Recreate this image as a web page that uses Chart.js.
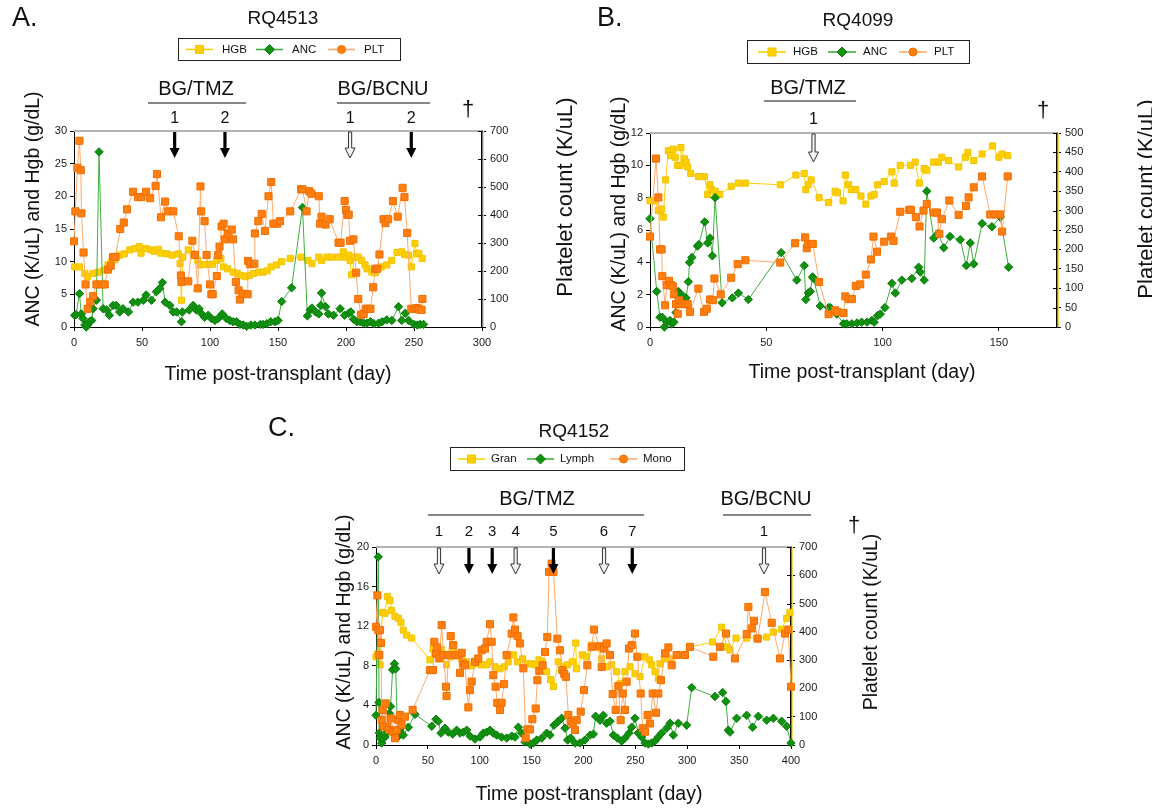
<!DOCTYPE html>
<html>
<head>
<meta charset="utf-8">
<script src="https://cdn.jsdelivr.net/npm/chart.js@4.4.1/dist/chart.umd.min.js"></script>
<style>
  html, body { margin: 0; padding: 0; background: #fff; }
  body { width: 1152px; height: 808px; position: relative; overflow: hidden; }
  canvas { position: absolute; }
</style>
</head>
<body>
<canvas id="chartA" width="576" height="400" style="left:0px;top:0px"></canvas>
<canvas id="chartB" width="612" height="400" style="left:540px;top:0px"></canvas>
<canvas id="chartC" width="700" height="408" style="left:250px;top:400px"></canvas>
<script>
// ---- data: [day, value] ----
const A_HGB = [[0.5,9.2],[4,9.2],[8,8.2],[10,7.7],[14,8.2],[17.7,8.4],[22,8.7],[25,9.5],[27.5,10.0],[30,10.3],[33.6,11.0],[37,11.2],[41,11.8],[44.7,12.0],[48,12.3],[49.3,11.3],[53,12.0],[57,11.8],[59,11.6],[62,11.9],[64,11.3],[68,11.2],[72,11.0],[76.6,11.2],[78,9.7],[79,4.1],[80,10.7],[84,11.8],[87.6,11.2],[91,10.2],[92.6,9.5],[96,9.6],[98.7,9.6],[102,9.6],[105,10.2],[108,10.5],[110,9.2],[113,8.9],[117,8.4],[120,8.2],[123,7.9],[126,7.7],[129,7.9],[132,8.2],[135.5,8.4],[139,8.4],[142,8.6],[145,9.2],[149,9.5],[152.7,10.0],[159,10.5],[167,10.7],[172,10.2],[175,9.7],[180,10.7],[182,10.2],[186,10.7],[189.5,10.7],[194.5,10.7],[198,11.5],[199.3,10.7],[202,11.0],[203,10.2],[204,8.0],[206.5,10.7],[209,10.7],[211.5,10.2],[214,9.5],[215.5,8.9],[219,8.4],[221.5,8.3],[222.5,8.9],[226,9.2],[230,9.5],[233.7,10.2],[237.5,11.4],[241,11.5],[243,11.1],[246,11.0],[248,9.2],[250.7,12.8],[252,11.2],[253.6,11.3],[256,10.5]];
const A_ANC = [[0.5,1.8],[1.5,1.9],[4,5.1],[5.4,2.0],[6.6,1.3],[8,0.3],[9,0.0],[10,0.3],[11.5,0.8],[13,1.0],[14,2.8],[16.5,4.1],[18.4,26.8],[21.4,2.8],[24,2.6],[26,1.8],[28.7,3.3],[31,3.3],[33.6,2.3],[36,2.8],[40,2.3],[43.5,3.8],[47,3.8],[51,4.1],[53,4.9],[57,4.1],[60.6,5.4],[63,5.9],[65,6.8],[67,3.8],[70.5,3.3],[73,2.3],[75.5,2.3],[79,0.8],[79.7,2.3],[84.7,2.6],[87.6,3.3],[90,2.6],[92,2.8],[94,2.0],[96,1.5],[98.7,1.8],[101,1.3],[103.6,1.0],[106,1.3],[109,2.0],[112,1.3],[114.6,1.0],[117,0.8],[119.5,0.8],[122,0.4],[124.5,0.3],[127,0.1],[130,0.3],[133,0.3],[137,0.4],[139,0.4],[141.7,0.5],[144.6,0.8],[147.8,0.8],[150,1.0],[152.7,3.9],[160,6.0],[168,18.3],[171.6,1.7],[173.6,2.6],[175,2.9],[177.7,2.3],[180,2.0],[181.5,3.3],[182,5.2],[185,3.1],[187,2.0],[190.8,1.8],[195.7,2.8],[199,1.8],[202,2.1],[203.5,2.3],[205.5,1.2],[208,0.8],[210.5,0.8],[213,0.6],[215.5,0.6],[218,0.8],[220.5,0.5],[224,0.6],[226.6,0.8],[230,1.1],[233.7,1.0],[238.6,3.1],[241,1.0],[243.6,2.1],[246,1.0],[250,0.4],[252.5,0.3],[254.5,0.4],[257,0.4]];
const A_PLT = [[0,306],[1,413],[2.5,569],[4,665],[5,560],[5.5,406],[7,266],[8.5,152],[10,65],[12,89],[14,110],[16.5,152],[20,152],[22.6,152],[25,205],[27,219],[28.7,250],[30.5,250],[34,350],[36.6,373],[39,420],[43.5,483],[47,464],[49.6,464],[53,483],[56,460],[60,504],[61,546],[64,392],[67,448],[69,413],[73,413],[77,324],[78.6,184],[79,161],[84,163],[87,308],[89,257],[91,138],[93,502],[93.5,413],[96,378],[97.5,257],[100,152],[101,117],[102,117],[105,182],[106,257],[107,287],[108.5,359],[110,369],[111,313],[113,334],[116,348],[117,313],[119,161],[121,131],[122,98],[124,119],[127.7,117],[128,236],[129.5,224],[132.6,226],[133,334],[135.5,378],[138,404],[140.4,343],[143,467],[145,518],[146.6,369],[149.5,369],[151.5,378],[159,413],[167,492],[168,492],[171,413],[173,485],[174.6,476],[180,467],[181,369],[182,394],[185,366],[188,385],[194.5,301],[196,301],[199,450],[200,418],[201,401],[202,401],[203,308],[205.5,313],[207.5,194],[209,100],[211,44],[213,47],[214.5,65],[216,65],[218,65],[220,142],[221.5,208],[223,208],[224.6,259],[227.6,385],[229,371],[231,385],[234.5,450],[238,394],[241.6,497],[243,464],[245,336],[248,65],[250.5,65],[252,68],[253.6,63],[255.6,61],[256.2,100]];

const B_HGB = [[0,7.8],[2.2,7.8],[3.6,7.2],[5,7.3],[5.7,6.8],[6.7,9.1],[7.9,10.9],[8.9,10.6],[10,11.0],[10.8,10.5],[11.8,10.0],[12.9,10.0],[13.3,11.1],[14.8,10.4],[15.5,10.2],[16.2,9.9],[17.5,9.5],[20.8,9.3],[23.4,9.3],[24.8,8.2],[25.8,8.8],[26.5,8.5],[28,8.4],[30,8.2],[34.9,8.7],[38,8.9],[41,8.9],[56,8.8],[62.7,9.4],[66.3,9.5],[67,8.5],[68,8.8],[69.3,9.1],[72.7,8.0],[76.8,7.7],[79.6,8.4],[80.6,8.3],[83,7.8],[84,9.4],[85.4,8.8],[86.5,8.5],[88.5,8.5],[90.7,8.1],[92.8,7.6],[95,8.1],[96.4,8.2],[97.8,8.8],[100.7,9.0],[104,9.6],[105,8.9],[107.6,10.0],[112,10.0],[114,10.2],[115.8,8.9],[117.9,9.8],[119,9.7],[122,10.2],[124,10.2],[125.5,10.5],[128.4,10.3],[132.7,9.9],[135.6,10.5],[136.7,10.8],[139.2,10.3],[142.8,10.7],[147.3,11.2],[150,10.5],[151.4,10.7],[153.8,10.6]];
const B_ANC = [[0,6.7],[2.9,2.2],[4.3,0.6],[5.3,0.6],[6.2,0.0],[7.2,0.3],[8.6,0.4],[9.3,0.2],[10.3,0.3],[11.2,0.9],[12.2,2.2],[12.9,2.0],[14.3,1.9],[15.5,1.8],[16.5,2.8],[17,4.0],[18,4.3],[20.4,5.0],[21,5.1],[23.5,6.5],[24.8,5.2],[25.8,5.5],[26.8,4.4],[28,8.0],[31,1.5],[35.4,1.8],[38,2.1],[42.3,1.7],[56.4,4.6],[63.1,2.9],[66.3,3.8],[67,1.7],[68.1,2.1],[68.9,2.2],[69.9,3.1],[70.3,3.0],[73.2,1.3],[76.8,1.2],[77.5,1.2],[80.3,0.8],[83.2,0.2],[84.6,0.2],[86.8,0.2],[89,0.25],[91,0.3],[93.3,0.3],[95.4,0.4],[96.4,0.3],[97.8,0.7],[99,0.8],[101,1.2],[104,2.7],[105.5,2.1],[108.3,2.9],[112.6,3.0],[115.5,3.7],[116.2,3.4],[117.9,2.9],[119,8.4],[122,5.5],[124,5.8],[126.3,4.9],[129,5.6],[133.4,5.4],[136,3.8],[137.7,5.2],[139.2,3.9],[142.8,6.4],[147,6.2],[150.6,6.8],[154.2,3.7]];
const B_PLT = [[0,233],[2.6,434],[3.6,334],[4.3,200],[5,200],[5.3,131],[6.5,56],[7.2,108],[8.2,119],[9,108],[9.8,105],[10.3,84],[11.2,59],[11.9,34],[12.6,69],[13.6,59],[15,59],[16.2,59],[17.2,39],[20.8,99],[23.2,39],[24.4,47],[25.8,71],[27,69],[27.7,125],[30.4,84],[34.9,127],[37.7,162],[41,172],[56,166],[62.4,216],[66.7,231],[67.4,203],[68,214],[69.3,214],[70,214],[72.7,116],[76.8,33],[79.6,43],[80.6,39],[83.2,36],[84,79],[85.4,72],[86.8,72],[88.5,106],[90.4,110],[92.8,135],[95,174],[96.1,233],[97.6,194],[100.7,220],[103.7,233],[104.7,222],[107.6,297],[111.5,302],[112.2,302],[114.3,283],[115.9,259],[117.6,300],[119,317],[122,295],[123.4,295],[124.4,240],[125.5,278],[128.7,326],[132.7,289],[135.9,312],[137,334],[139.2,360],[142.8,388],[146.3,290],[148.5,290],[150.6,290],[151.4,246],[153.8,388]];

const C_GRAN = [[0,8.9],[1.6,9.2],[3.9,8.1],[6.1,13.4],[8.7,13.3],[10.9,15.0],[13.5,14.6],[15.1,13.6],[18.3,13.0],[21.5,12.8],[24,12.4],[26.3,11.6],[29.6,11.1],[34.4,10.8],[52,8.6],[55,9.7],[58.5,9.1],[63.3,9.6],[68,8.1],[72,8.9],[74.5,9.4],[79.4,9.0],[82.6,8.7],[87.4,8.4],[92.2,8.0],[97,8.2],[101.8,8.1],[106.7,8.1],[109.9,8.4],[114.7,7.9],[119.5,7.7],[123.7,7.9],[127.5,8.4],[132.4,9.1],[136.5,8.4],[141.4,8.7],[145.9,8.2],[150,8.2],[153.3,8.1],[157,8.6],[160.3,8.4],[164.5,7.4],[168.3,6.6],[171,5.9],[175.7,8.4],[180.6,7.9],[184.4,8.1],[189.2,8.4],[192.5,10.3],[193.4,7.7],[198.9,9.1],[203,8.9],[207.9,10.1],[212.7,9.9],[217.5,8.7],[222.3,7.9],[227.2,8.1],[231.9,7.4],[235.2,6.2],[240,7.4],[244.8,7.9],[249.6,7.2],[254.5,6.9],[259.3,8.9],[263.4,8.6],[265.7,8.1],[268.9,7.4],[272.1,6.7],[273.7,8.2],[277.9,8.7],[283.4,8.7],[291.4,9.1],[302.6,9.9],[324.5,10.4],[333.2,11.9],[338,9.9],[341.2,9.6],[347,10.8],[357.3,10.8],[367,10.8],[376.6,10.9],[383,11.4],[391,11.7],[395.8,12.8],[399,13.4]];
const C_LYMPH = [[0,3.0],[2.2,19.0],[2.9,4.3],[3.2,1.2],[3.9,0.7],[5.5,0.2],[7,0.7],[8.7,0.8],[10.9,1.3],[12.9,3.2],[14.1,3.9],[16,7.6],[17.7,8.2],[19,7.7],[20.9,0.8],[23,1.5],[26.3,1.0],[31.2,1.8],[37.6,3.1],[53.7,1.9],[57.8,2.6],[60,2.4],[62.6,1.2],[66.5,1.7],[69.7,1.3],[73.9,1.1],[77.7,1.5],[81,1.2],[84.2,1.3],[87.4,1.5],[90.6,0.9],[95.4,0.6],[100.2,0.8],[103.5,1.2],[106.7,1.3],[109.9,1.5],[113,1.2],[116.3,1.0],[121,0.8],[126,0.7],[130.8,0.9],[134,0.8],[137.2,1.8],[140.4,1.2],[143.6,0.3],[148.4,0.1],[151.6,0.2],[154.9,0.5],[159.7,0.7],[164.5,1.2],[167.7,1.0],[171.6,2.0],[175.7,2.4],[179,2.7],[182.2,1.7],[184.7,0.5],[187.6,0.7],[191.8,0.2],[196.6,0.2],[201.4,0.5],[206.3,1.0],[209.5,1.1],[211.7,2.9],[215.9,2.5],[219.1,3.0],[222.3,2.2],[225.5,2.4],[228.8,1.0],[232.6,0.7],[236.8,0.4],[240,0.7],[243.9,1.2],[246.4,1.8],[249.6,2.7],[252.8,1.2],[256,0.8],[259.3,0.2],[262.5,0.1],[265.7,0.2],[268.9,0.4],[272.1,0.8],[275.3,1.2],[280.2,1.7],[283.4,2.2],[286.6,1.0],[291.4,2.2],[299.4,2.0],[304.3,5.8],[326.7,4.9],[334.1,5.3],[337.3,4.4],[339.6,1.5],[341.2,1.3],[347.6,2.7],[357.3,3.0],[363,1.8],[368.5,2.9],[376.6,2.5],[383,2.7],[391,2.4],[395.8,1.9],[400,0.2]];
const C_MONO = [[0,418],[1.3,529],[2.2,406],[3.2,318],[3.9,406],[4.8,361],[5.5,88],[6.4,124],[7.7,65],[9.3,147],[10.9,65],[12.9,53],[14.5,94],[16.7,47],[18.3,24],[19.9,53],[21.5,88],[23,106],[24.7,71],[27.9,100],[35.3,124],[52,265],[55,265],[56.2,365],[57.8,324],[59,345],[61,306],[63.3,424],[65,318],[67.5,206],[68,173],[69.7,318],[72,385],[74.5,353],[76.1,318],[79.4,318],[81,255],[82.6,326],[84.2,288],[85.8,282],[89,133],[90.6,194],[92.2,224],[95.4,294],[98.6,306],[101.8,335],[105,341],[106.7,365],[109.9,427],[111.5,365],[113.1,247],[115.3,206],[116.9,149],[119.5,124],[121.1,149],[123.4,215],[125.9,318],[130.8,394],[132.4,451],[134,408],[136.5,385],[138.8,359],[142,271],[144.3,24],[145.9,55],[148.4,55],[150.7,91],[153.9,129],[155.5,229],[157.4,262],[160.6,282],[162.9,329],[165.1,382],[166.8,612],[169.3,641],[171,612],[174.8,376],[177.3,335],[179.6,265],[181.5,251],[183.1,241],[185.4,106],[187.6,82],[189.6,73],[191.8,53],[193.4,88],[197.3,118],[200.5,194],[203.7,282],[207.9,347],[210.1,408],[215.3,349],[217.5,276],[219.8,341],[222.3,359],[225.5,318],[228.1,180],[231,124],[233.6,208],[235.8,88],[237.8,182],[240,124],[241.6,224],[243.9,341],[246.4,353],[249.6,394],[251.9,312],[255.1,182],[257,59],[259.3,47],[261.8,106],[264.1,76],[266.7,182],[269.9,114],[272.1,182],[274.7,229],[278.6,324],[281.8,345],[285,282],[289.8,318],[297.8,318],[302.6,347],[325.1,312],[331.6,347],[337.3,394],[346,306],[357.3,392],[358.9,488],[362.1,412],[364.3,439],[367.9,376],[374.9,541],[381.4,432],[389.4,306],[394.2,394],[397.4,408],[400,206]];

// treatment days (arrows) and whether the arrow is drawn hollow
const A_TMZ_DAYS = [74, 111];
const A_TMZ_HOLLOW = [false, false];
const A_BCNU_DAYS = [203, 248];
const A_BCNU_HOLLOW = [true, false];
const B_TMZ_DAYS = [70.3];
const B_TMZ_HOLLOW = [true];
const C_TMZ_DAYS = [60.7, 89.6, 112, 134.6, 171, 219.8, 247];
const C_TMZ_HOLLOW = [true, false, false, true, false, true, false];
const C_BCNU_DAYS = [374];
const C_BCNU_HOLLOW = [true];

// tick labels
const A_X_TICKS = [0, 50, 100, 150, 200, 250, 300];
const A_Y_TICKS = [0, 5, 10, 15, 20, 25, 30];
const A_Y1_TICKS = [0, 100, 200, 300, 400, 500, 600, 700];
const B_X_TICKS = [0, 50, 100, 150];
const B_Y_TICKS = [0, 2, 4, 6, 8, 10, 12];
const B_Y1_TICKS = [0, 50, 100, 150, 200, 250, 300, 350, 400, 450, 500];
const C_X_TICKS = [0, 50, 100, 150, 200, 250, 300, 350, 400];
const C_Y_TICKS = [0, 4, 8, 12, 16, 20];
const C_Y1_TICKS = [0, 100, 200, 300, 400, 500, 600, 700];

const FONT = "'Liberation Sans', Arial, Helvetica, sans-serif";
Chart.defaults.font.family = FONT;
Chart.defaults.color = '#1a1a1a';

const YELLOW = { fill: '#FFD000', edge: '#F2C200', line: '#FFD000', style: 'rect', r: 4.3 };
const GREEN = { fill: '#109210', edge: '#0B7D0B', line: '#3FAE3F', style: 'rectRot', r: 4.2 };
const ORANGE = { fill: '#FF7F10', edge: '#F06E00', line: '#FFAA6A', style: 'rect', r: 5 };

function txt(ctx, s, x, y, size, align, rot) {
  ctx.save();
  ctx.font = size + 'px ' + FONT;
  ctx.fillStyle = '#111';
  ctx.textAlign = align || 'center';
  ctx.textBaseline = 'middle';
  ctx.translate(x, y);
  if (rot) ctx.rotate(rot);
  ctx.fillText(s, 0, 0);
  ctx.restore();
}

function marker(ctx, style, x, y, r, c) {
  ctx.fillStyle = c.fill;
  ctx.strokeStyle = c.edge;
  ctx.lineWidth = 1;
  ctx.beginPath();
  if (style === 'rect') ctx.rect(x - r, y - r, 2 * r, 2 * r);
  else if (style === 'rectRot') { ctx.moveTo(x, y - r - 1); ctx.lineTo(x + r + 1, y); ctx.lineTo(x, y + r + 1); ctx.lineTo(x - r - 1, y); ctx.closePath(); }
  else ctx.arc(x, y, r, 0, Math.PI * 2);
  ctx.fill();
  ctx.stroke();
}

function arrow(ctx, x, y0, y1, hollow) {
  const hw = 1.6, headW = 5, headH = 10;
  ctx.beginPath();
  ctx.moveTo(x - hw, y0);
  ctx.lineTo(x + hw, y0);
  ctx.lineTo(x + hw, y1 - headH);
  ctx.lineTo(x + headW, y1 - headH);
  ctx.lineTo(x, y1);
  ctx.lineTo(x - headW, y1 - headH);
  ctx.lineTo(x - hw, y1 - headH);
  ctx.closePath();
  if (hollow) {
    ctx.fillStyle = '#f2f2f2';
    ctx.fill();
    ctx.strokeStyle = '#333';
    ctx.lineWidth = 1;
    ctx.stroke();
  } else {
    ctx.fillStyle = '#000';
    ctx.fill();
  }
}

function makeDecor(p) {
  return {
    id: 'decor_' + p.id,
    beforeDatasetsDraw(chart) {
      const ctx = chart.ctx, a = chart.chartArea, yr = chart.scales.y1;
      ctx.save();
      ctx.strokeStyle = '#b4b4b4';
      ctx.lineWidth = 2;
      ctx.beginPath(); ctx.moveTo(a.left, a.top); ctx.lineTo(a.right, a.top); ctx.stroke();
      ctx.strokeStyle = '#F5DC5A';
      ctx.lineWidth = 1;
      ctx.beginPath(); ctx.moveTo(a.right + 1.5, a.top); ctx.lineTo(a.right + 1.5, a.bottom); ctx.stroke();
      ctx.strokeStyle = '#000';
      yr.ticks.forEach(t => {
        const y = Math.round(yr.getPixelForValue(t.value)) + 0.5;
        ctx.beginPath(); ctx.moveTo(a.right - 4, y); ctx.lineTo(a.right, y); ctx.stroke();
      });
      ctx.restore();
    },
    afterDraw(chart) {
      const ctx = chart.ctx, xs = chart.scales.x;
      ctx.save();
      ctx.translate(-p.ox, -p.oy);
      // arrows and cycle numbers
      p.arrows.groups.forEach(g => {
        g.days.forEach((d, i) => {
          const x = xs.getPixelForValue(d) + p.ox;
          arrow(ctx, x, p.arrows.y0, p.arrows.y1, g.hollow[i]);
          txt(ctx, String(i + 1), x, p.arrows.numY, p.arrows.numSize);
        });
      });
      // texts
      p.texts.forEach(t => txt(ctx, t[0], t[1], t[2], t[3], t[4], t[5]));
      // treatment underlines
      ctx.strokeStyle = '#111';
      ctx.lineWidth = 1.2;
      p.rules.forEach(r => {
        ctx.beginPath(); ctx.moveTo(r[0], r[2]); ctx.lineTo(r[1], r[2]); ctx.stroke();
      });
      // legend
      const L = p.legend;
      ctx.strokeStyle = '#222';
      ctx.lineWidth = 1;
      ctx.strokeRect(L.x + 0.5, L.y + 0.5, L.w, L.h);
      const cy = L.y + L.h / 2 + 0.5;
      L.items.forEach(it => {
        ctx.strokeStyle = it.c.line;
        ctx.lineWidth = 1.6;
        ctx.beginPath(); ctx.moveTo(it.x, cy); ctx.lineTo(it.x + L.line, cy); ctx.stroke();
        marker(ctx, it.style, it.x + L.line / 2, cy, 4, it.c);
        txt(ctx, it.label, it.x + L.text, cy, 11.5, 'left');
      });
      ctx.restore();
    }
  };
}

function yAxis(pos, ticks, width) {
  return {
    type: 'linear', position: pos, min: ticks[0], max: ticks[ticks.length - 1],
    afterBuildTicks: s => { s.ticks = ticks.map(v => ({ value: v })); },
    afterFit: s => { s.width = width; },
    ticks: { font: { size: 11 }, color: '#1a1a1a', padding: pos === 'left' ? 3 : 4 },
    grid: { drawOnChartArea: false, tickLength: 4, color: '#000' },
    border: { color: '#000', width: pos === 'left' ? 1 : 1.5 }
  };
}

function buildChart(p) {
  const datasets = p.series.map(s => ({
    label: s.label,
    data: s.data.map(([x, y]) => ({ x, y })),
    yAxisID: s.axis,
    order: s.order,
    clip: false,
    borderColor: s.c.line,
    borderWidth: 1,
    pointStyle: s.c.style,
    pointRadius: s.c.r,
    pointBackgroundColor: s.c.fill,
    pointBorderColor: s.c.edge,
    pointBorderWidth: 1,
    tension: 0,
    fill: false
  }));
  return new Chart(document.getElementById(p.id), {
    type: 'line',
    data: { datasets },
    options: {
      responsive: false,
      animation: false,
      events: [],
      layout: { padding: { left: 0, right: 0, top: p.top, bottom: 0 }, autoPadding: false },
      plugins: { legend: { display: false }, tooltip: { enabled: false } },
      scales: {
        x: {
          type: 'linear', min: p.xTicks[0], max: p.xMax,
          afterBuildTicks: s => { s.ticks = p.xTicks.map(v => ({ value: v })); },
          afterFit: s => { s.height = p.xH; },
          ticks: { font: { size: 11 }, color: '#1a1a1a', padding: 5, autoSkip: false, maxRotation: 0 },
          grid: { drawOnChartArea: false, tickLength: 4, color: '#000' },
          border: { color: '#000', width: 1 }
        },
        y: yAxis('left', p.yTicks, p.yW),
        y1: yAxis('right', p.y1Ticks, p.y1W)
      }
    },
    plugins: [makeDecor(p)]
  });
}

const ROT = -Math.PI / 2;

buildChart({
  id: 'chartA', ox: 0, oy: 0, top: 131, yW: 74, y1W: 94, xH: 73,
  xTicks: A_X_TICKS, xMax: 300, yTicks: A_Y_TICKS, y1Ticks: A_Y1_TICKS,
  series: [
    { label: 'HGB', data: A_HGB, axis: 'y', c: YELLOW, order: 3 },
    { label: 'ANC', data: A_ANC, axis: 'y', c: GREEN, order: 2 },
    { label: 'PLT', data: A_PLT, axis: 'y1', c: ORANGE, order: 1 }
  ],
  arrows: { y0: 132, y1: 158, numY: 119, numSize: 16,
    groups: [{ days: A_TMZ_DAYS, hollow: A_TMZ_HOLLOW }, { days: A_BCNU_DAYS, hollow: A_BCNU_HOLLOW }] },
  texts: [
    ['A.', 12, 19, 27, 'left'],
    ['RQ4513', 283, 19, 19],
    ['BG/TMZ', 196, 89, 20],
    ['BG/BCNU', 383, 89, 20],
    ['\u2020', 468, 110, 22],
    ['Time post-transplant (day)', 278, 375, 19.5],
    ['ANC (K/uL) and Hgb (g/dL)', 34, 209, 19.5, 'center', ROT]
  ],
  rules: [[148, 246, 103], [337, 430, 103]],
  legend: { x: 178, y: 38, w: 222, h: 22, line: 27, text: 36, items: [
    { x: 186, label: 'HGB', style: 'rect', c: YELLOW },
    { x: 256, label: 'ANC', style: 'rectRot', c: GREEN },
    { x: 328, label: 'PLT', style: 'circle', c: ORANGE }
  ] }
});

buildChart({
  id: 'chartB', ox: 540, oy: 0, top: 133, yW: 110, y1W: 95, xH: 73,
  xTicks: B_X_TICKS, xMax: 175, yTicks: B_Y_TICKS, y1Ticks: B_Y1_TICKS,
  series: [
    { label: 'HGB', data: B_HGB, axis: 'y', c: YELLOW, order: 3 },
    { label: 'ANC', data: B_ANC, axis: 'y', c: GREEN, order: 2 },
    { label: 'PLT', data: B_PLT, axis: 'y1', c: ORANGE, order: 1 }
  ],
  arrows: { y0: 134, y1: 162, numY: 120, numSize: 16,
    groups: [{ days: B_TMZ_DAYS, hollow: B_TMZ_HOLLOW }] },
  texts: [
    ['B.', 597, 19, 27, 'left'],
    ['RQ4099', 858, 21, 19],
    ['BG/TMZ', 808, 88, 20],
    ['\u2020', 1043, 111, 22],
    ['Time post-transplant (day)', 862, 373, 19.5],
    ['Platelet count (K/uL)', 566, 197, 22, 'center', ROT],
    ['ANC (K/uL) and Hgb (g/dL)', 620, 214, 19.5, 'center', ROT],
    ['Platelet count (K/uL)', 1147, 199, 22, 'center', ROT]
  ],
  rules: [[764, 856, 101]],
  legend: { x: 747, y: 40, w: 222, h: 23, line: 28, text: 35, items: [
    { x: 758, label: 'HGB', style: 'rect', c: YELLOW },
    { x: 828, label: 'ANC', style: 'rectRot', c: GREEN },
    { x: 899, label: 'PLT', style: 'circle', c: ORANGE }
  ] }
});

buildChart({
  id: 'chartC', ox: 250, oy: 400, top: 147, yW: 126, y1W: 159, xH: 63,
  xTicks: C_X_TICKS, xMax: 400, yTicks: C_Y_TICKS, y1Ticks: C_Y1_TICKS,
  series: [
    { label: 'Gran', data: C_GRAN, axis: 'y', c: YELLOW, order: 3 },
    { label: 'Lymph', data: C_LYMPH, axis: 'y', c: GREEN, order: 2 },
    { label: 'Mono', data: C_MONO, axis: 'y1', c: ORANGE, order: 1 }
  ],
  arrows: { y0: 548, y1: 574, numY: 532, numSize: 15,
    groups: [{ days: C_TMZ_DAYS, hollow: C_TMZ_HOLLOW }, { days: C_BCNU_DAYS, hollow: C_BCNU_HOLLOW }] },
  texts: [
    ['C.', 268, 429, 27, 'left'],
    ['RQ4152', 574, 432, 19],
    ['BG/TMZ', 537, 499, 20],
    ['BG/BCNU', 766, 499, 20],
    ['\u2020', 854, 526, 22],
    ['Time post-transplant (day)', 589, 795, 19.5],
    ['ANC (K/uL) and Hgb (g/dL)', 345, 632, 19.5, 'center', ROT],
    ['Platelet count (K/uL)', 872, 622, 19.5, 'center', ROT]
  ],
  rules: [[428, 644, 515], [723, 811, 515]],
  legend: { x: 450, y: 447, w: 234, h: 23, line: 27, text: 33, items: [
    { x: 458, label: 'Gran', style: 'rect', c: YELLOW },
    { x: 527, label: 'Lymph', style: 'rectRot', c: GREEN },
    { x: 610, label: 'Mono', style: 'circle', c: ORANGE }
  ] }
});
</script>
</body>
</html>
